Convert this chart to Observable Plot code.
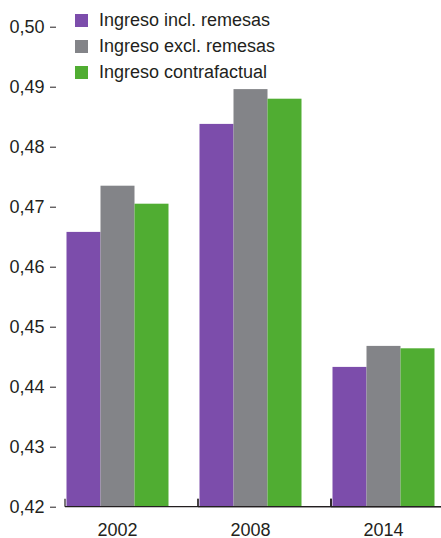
<!DOCTYPE html>
<html>
<head>
<meta charset="utf-8">
<script src="https://cdn.jsdelivr.net/npm/d3@7"></script>
<script src="https://cdn.jsdelivr.net/npm/@observablehq/plot@0.6"></script>
<style>
  html, body { margin: 0; padding: 0; background: #fff; overflow: hidden; }
  #wrap { position: relative; width: 441px; height: 538px; overflow: hidden; font-family: "Liberation Sans", Arial, sans-serif; color: #231f20; }
  #wrap > svg { position: absolute; left: 0; top: 0; max-width: none !important; }
  #legend { position: absolute; left: 75px; top: 7px; font-size: 18px; z-index: 1; }
  #legend .row { display: flex; align-items: center; height: 26px; }
  #legend .sw { width: 13px; height: 13px; margin-right: 11px; flex: none; }
</style>
</head>
<body>
<div id="wrap"><div id="legend"></div></div>
<script>
// Gini-style index by year, three income definitions
const years = ["2002", "2008", "2014"];
const series = ["Ingreso incl. remesas", "Ingreso excl. remesas", "Ingreso contrafactual"];
const colors = ["#7c4dab", "#838488", "#50ad32"];
const inclRemesas = [0.4658, 0.4838, 0.4433];
const exclRemesas = [0.4735, 0.4896, 0.4468];
const contrafactual = [0.4705, 0.4880, 0.4464];
const yTicks = [0.42, 0.43, 0.44, 0.45, 0.46, 0.47, 0.48, 0.49, 0.50];
const yBase = 0.42;

const values = [inclRemesas, exclRemesas, contrafactual];
const data = [];
years.forEach((year, i) => {
  series.forEach((serie, j) => data.push({year, serie, value: values[j][i]}));
});

const ink = "#231f20";
const W = 450, H = 538;
const mTop = 26.7, mBottom = 31.3;

// baseline plus the short ticks that separate the year groups
function groupFrame(index, scales) {
  const {fx, y} = scales;
  const g = d3.create("svg:g").attr("stroke", ink).attr("stroke-width", 1.2);
  const y0 = y(yBase);
  const gap = (fx.step() - fx.bandwidth()) / 2;
  const edges = years.map((d) => fx(d) - gap);
  edges.push(fx(years[years.length - 1]) + fx.bandwidth() + gap);
  const xr1 = fx.range()[1];
  g.append("line").attr("x1", edges[0]).attr("x2", xr1 + 10).attr("y1", y0).attr("y2", y0);
  for (const e of edges) {
    g.append("line").attr("x1", e).attr("x2", e).attr("y1", y0).attr("y2", y0 - 8);
  }
  return g.node();
}

const chart = Plot.plot({
  width: W,
  height: H,
  marginLeft: 50.5,
  marginRight: 0.5,
  marginTop: mTop,
  marginBottom: mBottom,
  facet: {marginTop: 0, marginBottom: 0, marginLeft: 0, marginRight: 0},
  style: {fontFamily: "'Liberation Sans', Arial, sans-serif", fontSize: "18px", color: ink, background: "#fff"},
  fx: {domain: years, paddingInner: 0.218, paddingOuter: 0.109, label: null, axis: null},
  x: {domain: series, padding: 0, axis: null},
  y: {domain: [0.42, 0.50], range: [H - mBottom, mTop], label: null, axis: null},
  color: {domain: series, range: colors},
  marks: [
    Plot.barY(data, {fx: "year", x: "serie", y1: yBase, y2: "value", fill: "serie"}),
    Plot.axisY({ticks: yTicks, tickFormat: (d) => d.toFixed(2).replace(".", ","), tickSize: 6, tickPadding: 6, dx: -9, label: null, stroke: ink, fill: ink}),
    Plot.axisFx({anchor: "bottom", tickSize: 0, tickPadding: 16, label: null, fill: ink}),
    groupFrame
  ]
});

const wrap = document.getElementById("wrap");
wrap.insertBefore(chart, wrap.firstChild);

const legend = d3.select("#legend");
series.forEach((s, i) => {
  const row = legend.append("div").attr("class", "row");
  row.append("div").attr("class", "sw").style("background", colors[i]);
  row.append("span").text(s);
});
</script>
</body>
</html>
